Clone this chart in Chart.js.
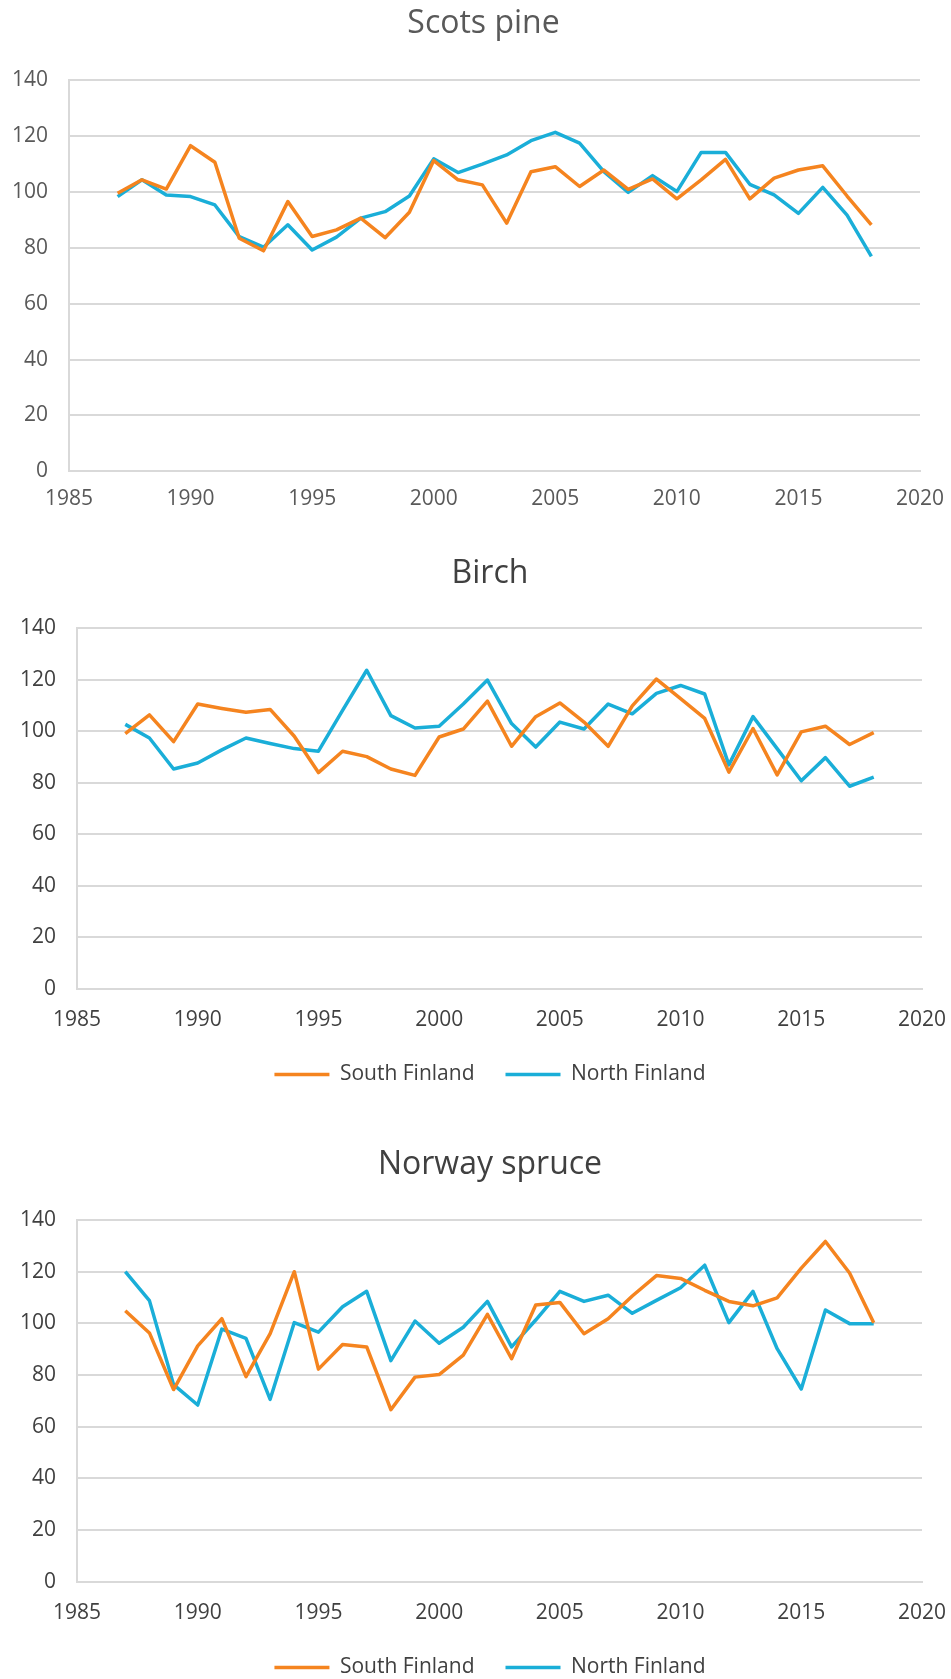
<!DOCTYPE html>
<html>
<head>
<meta charset="utf-8">
<script src="https://cdn.jsdelivr.net/npm/chart.js@4.4.1/dist/chart.umd.min.js"></script>
<style>
  html, body { margin: 0; padding: 0; background: #fff; overflow: hidden; }
  body { width: 951px; height: 1679px; position: relative; }
  .box { position: absolute; left: 0; }
</style>
</head>
<body>
<div class="box" style="top:0;width:967px;height:512px"><canvas id="pine-chart"></canvas></div>
<div class="box" style="top:520px;width:980px;height:575px"><canvas id="birch-chart"></canvas></div>
<div class="box" style="top:1110px;width:980px;height:578px"><canvas id="spruce-chart"></canvas></div>
<script>
const years = [1987, 1988, 1989, 1990, 1991, 1992, 1993, 1994, 1995, 1996, 1997, 1998, 1999, 2000, 2001, 2002,
  2003, 2004, 2005, 2006, 2007, 2008, 2009, 2010, 2011, 2012, 2013, 2014, 2015, 2016, 2017, 2018];
const seriesNames = ['South Finland', 'North Finland'];
const chartTitles = ['Scots pine', 'Birch', 'Norway spruce'];

const pineSouth = [99.5, 104.3, 101, 116.5, 110.6, 83.4, 78.9, 96.5, 84, 86.4, 90.6, 83.6, 92.7, 111.2, 104.3, 102.5,
  88.8, 107.2, 109, 101.9, 107.8, 100.9, 104.6, 97.5, 104.3, 111.6, 97.5, 104.9, 107.8, 109.3, 98.5, 88.2];
const pineNorth = [98.3, 104.3, 98.9, 98.3, 95.3, 84, 80.2, 88.2, 79.2, 83.8, 90.6, 92.9, 98.5, 111.8, 106.9, 109.9,
  113.2, 118.3, 121.3, 117.4, 107.2, 99.8, 105.8, 100.1, 114.1, 114.1, 102.7, 98.9, 92.3, 101.6, 91.7, 76.9];

const birchSouth = [99, 106.3, 95.9, 110.5, 108.8, 107.3, 108.4, 98, 83.9, 92.2, 90.1, 85.3, 82.8, 97.7, 100.8, 111.6,
  94.1, 105.6, 110.9, 103.5, 94.1, 109.8, 120.2, 112.6, 104.9, 84.1, 101, 83, 99.7, 101.9, 94.8, 99.4];
const birchNorth = [102.6, 97.3, 85.3, 87.6, 92.7, 97.3, 95.2, 93.2, 92.2, 108, 123.6, 106, 101.2, 101.9, 110.5, 119.8,
  102.9, 93.8, 103.5, 100.8, 110.5, 106.7, 114.6, 117.7, 114.4, 86.9, 105.6, 93.2, 80.7, 89.7, 78.6, 82.1];

const spruceSouth = [104.9, 96.3, 74.4, 91.3, 101.8, 79.4, 96, 120, 82.3, 91.8, 90.9, 66.6, 79.2, 80.2, 87.7, 103.5,
  86.3, 107.1, 108.1, 96, 101.8, 110.6, 118.5, 117.4, 112.8, 108.5, 106.8, 109.9, 121.4, 131.7, 119.5, 100.2];
const spruceNorth = [120, 108.8, 76.3, 68.4, 97.8, 94.2, 70.6, 100.3, 96.6, 106.4, 112.4, 85.6, 100.9, 92.3, 98.5, 108.5,
  90.9, 101.3, 112.4, 108.5, 110.9, 103.9, 108.9, 113.8, 122.5, 100.3, 112.4, 90.2, 74.6, 105.2, 99.9, 99.9];

const xRange = { min: 1985, max: 2020, step: 5 };
const yRange = { min: 0, max: 140, step: 20 };

Chart.defaults.font.family = "'Open Sans', sans-serif";

const orange = '#F5841F';
const cyan = '#1AAED8';
const gridColor = '#d9d9d9';

function makeChart(id, title, south, north, opts) {
  const toPoints = values => values.map((v, i) => ({ x: years[i], y: v }));
  const lineStyle = color => ({
    borderColor: color,
    backgroundColor: color,
    borderWidth: 3.5,
    pointRadius: 0,
    tension: 0,
    borderJoinStyle: 'round',
    pointStyle: 'line'
  });

  return new Chart(document.getElementById(id), {
    type: 'line',
    data: {
      datasets: [
        { label: seriesNames[0], data: toPoints(south), ...lineStyle(orange) },
        { label: seriesNames[1], data: toPoints(north), ...lineStyle(cyan) }
      ]
    },
    options: {
      responsive: true,
      maintainAspectRatio: false,
      animation: false,
      layout: { padding: 0 },
      plugins: {
        title: {
          display: true,
          text: title,
          color: opts.textColor,
          font: { size: 32, weight: 'normal' },
          padding: opts.titlePadding
        },
        legend: {
          display: opts.legend,
          position: 'bottom',
          labels: {
            usePointStyle: true,
            pointStyleWidth: 55,
            padding: 31,
            color: opts.textColor,
            font: { size: 21 }
          }
        },
        tooltip: { enabled: false }
      },
      scales: {
        x: {
          type: 'linear',
          min: xRange.min,
          max: xRange.max,
          // invisible grid, tick length only pushes the labels down
          grid: { display: true, color: 'transparent', drawTicks: true, tickLength: opts.xTick },
          border: { display: true, color: gridColor, width: 2 },
          ticks: {
            stepSize: xRange.step,
            padding: 0,
            color: opts.textColor,
            font: { size: 21 },
            callback: v => String(v)
          }
        },
        y: {
          min: yRange.min,
          max: yRange.max,
          afterFit: s => { s.width = opts.yWidth; },
          grid: { color: gridColor, lineWidth: 2, drawTicks: false },
          border: { display: true, color: gridColor, width: 2 },
          ticks: {
            stepSize: yRange.step,
            padding: 21,
            color: opts.textColor,
            font: { size: 21 }
          }
        },
        // empty right-hand box, keeps the plot edge and centres the title
        side: {
          axis: 'y',
          position: 'right',
          afterFit: s => { s.width = opts.rightWidth; },
          grid: { display: false },
          border: { display: false },
          ticks: { display: false }
        }
      }
    }
  });
}

makeChart('pine-chart', chartTitles[0], pineSouth, pineNorth, {
  yWidth: 69, rightWidth: 47, xTick: 15.4, legend: false,
  textColor: '#595959', titlePadding: { top: 4.8, bottom: 36.8 }
});
makeChart('birch-chart', chartTitles[1], birchSouth, birchNorth, {
  yWidth: 77, rightWidth: 58, xTick: 19, legend: true,
  textColor: '#404040', titlePadding: { top: 34.8, bottom: 34.8 }
});
makeChart('spruce-chart', chartTitles[2], spruceSouth, spruceNorth, {
  yWidth: 77, rightWidth: 58, xTick: 19, legend: true,
  textColor: '#404040', titlePadding: { top: 35.8, bottom: 35.8 }
});
</script>
</body>
</html>
